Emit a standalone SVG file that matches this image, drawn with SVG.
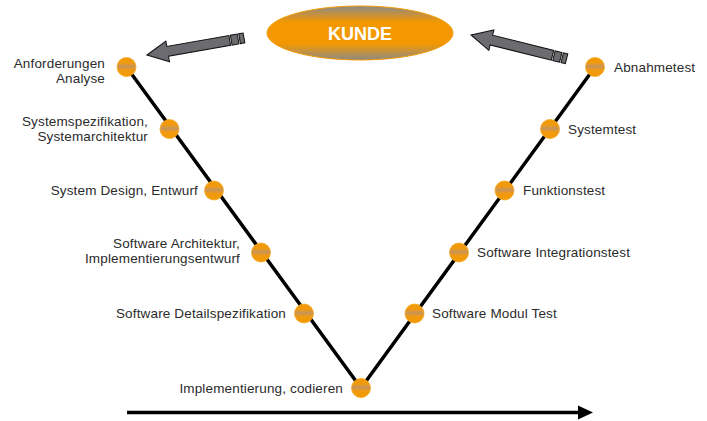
<svg xmlns="http://www.w3.org/2000/svg" width="707" height="421" viewBox="0 0 707 421">
  <defs>
    <linearGradient id="kundeFill" x1="0" y1="0" x2="0" y2="1">
      <stop offset="0" stop-color="#8e8a86"/>
      <stop offset="0.3" stop-color="#f39800"/>
      <stop offset="0.7" stop-color="#f39800"/>
      <stop offset="1" stop-color="#8e8a86"/>
    </linearGradient>
    <linearGradient id="dotFill" x1="0" y1="0" x2="0" y2="1">
      <stop offset="0" stop-color="#f39a00"/>
      <stop offset="0.28" stop-color="#f09a10"/>
      <stop offset="0.47" stop-color="#c8945a"/>
      <stop offset="0.66" stop-color="#f09a10"/>
      <stop offset="1" stop-color="#f39a00"/>
    </linearGradient>
    <!-- block arrow, tip at the origin, shaft running along +x -->
    <g id="blockArrow">
      <path d="M0,0 L21,-10.5 L21,-5 L84,-5 L84,5 L21,5 L21,10.5 Z"/>
      <rect x="85.5" y="-5" width="7" height="10"/>
      <rect x="94" y="-5" width="4.5" height="10"/>
    </g>
  </defs>
  <style>
    .lbl { font-family: "Liberation Sans", Arial, sans-serif; font-size: 13.5px; letter-spacing: 0.15px; fill: #2b2b2b; }
    .end { text-anchor: end; }
    .dot { fill: url(#dotFill); stroke: #f5a623; stroke-width: 0.8; }
    .vline { stroke: #000; stroke-width: 3.5; fill: none; }
    .block { fill: #6b6b70; stroke: #111; stroke-width: 1; }
  </style>

  <rect width="707" height="421" fill="#fff"/>

  <g id="connectors">
    <polyline class="vline" points="126.5,67 361,388 595,67"/>
    <use href="#blockArrow" class="block" transform="translate(147,55) rotate(-10)"/>
    <use href="#blockArrow" class="block" transform="translate(471,35) rotate(14)"/>
    <line x1="127" y1="412.5" x2="580" y2="412.5" stroke="#000" stroke-width="3.5"/>
    <polygon points="578,405.5 593,412.5 578,419.5" fill="#000"/>
  </g>

  <g id="kunde">
    <ellipse cx="360" cy="33" rx="93" ry="27" fill="url(#kundeFill)" stroke="#f39800" stroke-width="1"/>
    <text x="360" y="40" text-anchor="middle" font-family="Liberation Sans, Arial, sans-serif" font-weight="bold" font-size="18" fill="#fff">KUNDE</text>
  </g>

  <g id="anforderungen">
    <circle class="dot" cx="126.5" cy="67" r="9.5"/>
    <text class="lbl end" x="105" y="68">Anforderungen</text>
    <text class="lbl end" x="105" y="83">Analyse</text>
  </g>
  <g id="systemspezifikation">
    <circle class="dot" cx="169.5" cy="129" r="9.5"/>
    <text class="lbl end" x="148" y="126">Systemspezifikation,</text>
    <text class="lbl end" x="148" y="141">Systemarchitektur</text>
  </g>
  <g id="systemdesign">
    <circle class="dot" cx="214" cy="190.5" r="9.5"/>
    <text class="lbl end" x="198" y="195">System Design, Entwurf</text>
  </g>
  <g id="softwarearchitektur">
    <circle class="dot" cx="261" cy="252.5" r="9.5"/>
    <text class="lbl end" x="240" y="248">Software Architektur,</text>
    <text class="lbl end" x="240" y="263">Implementierungsentwurf</text>
  </g>
  <g id="detailspezifikation">
    <circle class="dot" cx="304" cy="313.5" r="9.5"/>
    <text class="lbl end" x="286" y="318">Software Detailspezifikation</text>
  </g>
  <g id="implementierung">
    <circle class="dot" cx="361" cy="388" r="9.5"/>
    <text class="lbl end" x="343" y="393">Implementierung, codieren</text>
  </g>
  <g id="modultest">
    <circle class="dot" cx="414.5" cy="313.5" r="9.5"/>
    <text class="lbl" x="432" y="318">Software Modul Test</text>
  </g>
  <g id="integrationstest">
    <circle class="dot" cx="459" cy="252.5" r="9.5"/>
    <text class="lbl" x="477" y="257">Software Integrationstest</text>
  </g>
  <g id="funktionstest">
    <circle class="dot" cx="504.5" cy="190.5" r="9.5"/>
    <text class="lbl" x="523" y="195">Funktionstest</text>
  </g>
  <g id="systemtest">
    <circle class="dot" cx="550" cy="129" r="9.5"/>
    <text class="lbl" x="568" y="134">Systemtest</text>
  </g>
  <g id="abnahmetest">
    <circle class="dot" cx="595" cy="67" r="9.5"/>
    <text class="lbl" x="614" y="72">Abnahmetest</text>
  </g>
</svg>
